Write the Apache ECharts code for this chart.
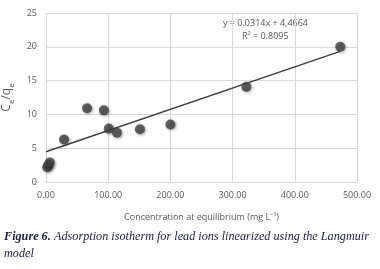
<!DOCTYPE html>
<html>
<head>
<meta charset="utf-8">
<script src="https://cdn.jsdelivr.net/npm/echarts@6/dist/echarts.min.js"></script>
<style>
	html, body { margin: 0; padding: 0; background: #fff; }
	#chart { width: 380px; height: 269px; }
</style>
</head>
<body>
<div id="chart"></div>
<script>
// measured points (Ce, Ce/qe)
var ceValues = [2, 4, 6, 29, 66, 93, 101, 114, 151, 200, 322, 473];
var ratioValues = [2.2, 2.5, 2.9, 6.3, 10.9, 10.6, 7.9, 7.3, 7.8, 8.5, 14.1, 20.0];

// linear trendline end points
var trendX = [0, 473];
var trendY = [4.47, 19.32];

var equationText = 'y = 0.0314x + 4,4664';
var r2Text = 'R² = 0.8095';

var chart = echarts.init(document.getElementById('chart'));

var points = ceValues.map(function (x, i) { return [x, ratioValues[i]]; });
var trend = trendX.map(function (x, i) { return [x, trendY[i]]; });

var option = {
	animation: false,
	backgroundColor: '#fff',
	grid: { left: 46, right: 23, top: 13, bottom: 87, outerBoundsMode: 'none', containLabel: false },
	xAxis: {
		type: 'value',
		min: 0, max: 500, interval: 100,
		name: 'Concentration at equilibrium (mg L⁻¹)',
		nameLocation: 'middle',
		nameGap: 31,
		nameTextStyle: { color: '#595959', fontSize: 9, fontFamily: 'Open Sans' },
		axisLine: { show: false },
		axisTick: { show: false },
		axisLabel: {
			color: '#595959', fontSize: 9, fontFamily: 'Open Sans', margin: 9,
			formatter: function (v) { return v.toFixed(2); }
		},
		splitLine: { show: true, lineStyle: { color: '#d9d9d9', width: 1 } }
	},
	yAxis: {
		type: 'value',
		min: 0, max: 25, interval: 5,
		name: '{n|C}{s|e}{n|/q}{s|e}',
		nameLocation: 'middle',
		nameGap: 23,
		nameTextStyle: {
			rich: {
				n: { color: '#595959', fontSize: 12, fontFamily: 'Open Sans', lineHeight: 16, verticalAlign: 'bottom' },
				s: { color: '#595959', fontSize: 8, fontFamily: 'Open Sans', lineHeight: 12, verticalAlign: 'bottom', padding: [0, 0, -3, 0] }
			}
		},
		axisLine: { show: false },
		axisTick: { show: false },
		axisLabel: { color: '#595959', fontSize: 9, fontFamily: 'Open Sans', margin: 9 },
		splitLine: { show: true, lineStyle: { color: '#d9d9d9', width: 1 } }
	},
	series: [
		{
			type: 'line',
			data: trend,
			symbol: 'none',
			lineStyle: { color: '#404040', width: 1.5 },
			z: 2
		},
		{
			type: 'scatter',
			data: points,
			symbolSize: 10,
			itemStyle: {
				color: '#404040',
				shadowColor: 'rgba(0,0,0,0.45)',
				shadowBlur: 3,
				shadowOffsetX: 1,
				shadowOffsetY: 1
			},
			z: 3
		}
	],
	graphic: [
		{
			type: 'text', left: 223, top: 19,
			style: { text: equationText, fill: '#595959', fontSize: 9, fontFamily: 'Open Sans' }
		},
		{
			type: 'text', left: 242, top: 32,
			style: { text: r2Text, fill: '#595959', fontSize: 9, fontFamily: 'Open Sans' }
		},
		{
			type: 'text', left: 4, top: 231,
			style: {
				text: '{b|Figure 6.} {i|Adsorption isotherm for lead ions linearized using the Langmuir}\n{i|model}',
				rich: {
					b: { fontFamily: 'Liberation Serif', fontSize: 12.2, fontStyle: 'italic', fontWeight: 'bold', fill: '#1c1c4a', lineHeight: 17 },
					i: { fontFamily: 'Liberation Serif', fontSize: 12.2, fontStyle: 'italic', fill: '#1c1c4a', lineHeight: 17 }
				}
			}
		}
	]
};

chart.setOption(option);
</script>
</body>
</html>
